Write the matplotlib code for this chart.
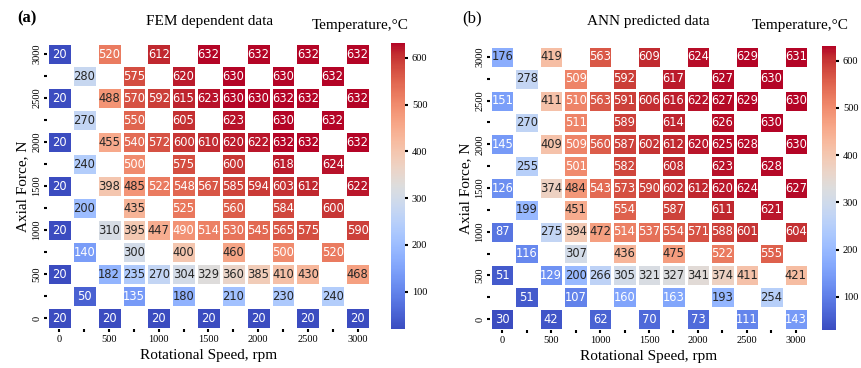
import numpy as np
import matplotlib
matplotlib.use("Agg")
import matplotlib.pyplot as plt
import seaborn as sns

n = np.nan

# rotational speed columns 0..3000 step 250, axial force rows 3000 (top) .. 0 (bottom)
speed_labels = ['0', '', '500', '', '1000', '', '1500', '', '2000', '', '2500', '', '3000']
force_labels = ['3000', '', '2500', '', '2000', '', '1500', '', '1000', '', '500', '', '0']

fem = np.array([
    [20, n, 520, n, 612, n, 632, n, 632, n, 632, n, 632],
    [n, 280, n, 575, n, 620, n, 630, n, 630, n, 632, n],
    [20, n, 488, 570, 592, 615, 623, 630, 630, 632, 632, n, 632],
    [n, 270, n, 550, n, 605, n, 623, n, 630, n, 632, n],
    [20, n, 455, 540, 572, 600, 610, 620, 622, 632, 632, n, 632],
    [n, 240, n, 500, n, 575, n, 600, n, 618, n, 624, n],
    [20, n, 398, 485, 522, 548, 567, 585, 594, 603, 612, n, 622],
    [n, 200, n, 435, n, 525, n, 560, n, 584, n, 600, n],
    [20, n, 310, 395, 447, 490, 514, 530, 545, 565, 575, n, 590],
    [n, 140, n, 300, n, 400, n, 460, n, 500, n, 520, n],
    [20, n, 182, 235, 270, 304, 329, 360, 385, 410, 430, n, 468],
    [n, 50, n, 135, n, 180, n, 210, n, 230, n, 240, n],
    [20, n, 20, n, 20, n, 20, n, 20, n, 20, n, 20],
])

ann = np.array([
    [176, n, 419, n, 563, n, 609, n, 624, n, 629, n, 631],
    [n, 278, n, 509, n, 592, n, 617, n, 627, n, 630, n],
    [151, n, 411, 510, 563, 591, 606, 616, 622, 627, 629, n, 630],
    [n, 270, n, 511, n, 589, n, 614, n, 626, n, 630, n],
    [145, n, 409, 509, 560, 587, 602, 612, 620, 625, 628, n, 630],
    [n, 255, n, 501, n, 582, n, 608, n, 623, n, 628, n],
    [126, n, 374, 484, 543, 573, 590, 602, 612, 620, 624, n, 627],
    [n, 199, n, 451, n, 554, n, 587, n, 611, n, 621, n],
    [87, n, 275, 394, 472, 514, 537, 554, 571, 588, 601, n, 604],
    [n, 116, n, 307, n, 436, n, 475, n, 522, n, 555, n],
    [51, n, 129, 200, 266, 305, 321, 327, 341, 374, 411, n, 421],
    [n, 51, n, 107, n, 160, n, 163, n, 193, n, 254, n],
    [30, n, 42, n, 62, n, 70, n, 73, n, 111, n, 143],
])

serif = 'Liberation Serif'
W, H = 862, 368
fig = plt.figure(figsize=(W / 100, H / 100), dpi=100)


def box(x0, y0, x1, y1):
    return [x0 / W, 1 - y1 / H, (x1 - x0) / W, (y1 - y0) / H]


panels = [
    (fem, '(a)', 'FEM dependent data', box(47, 43, 370, 329), box(391, 43, 405, 329), 17, 210, 360),
    (ann, '(b)', 'ANN predicted data', box(490, 46, 808, 330), box(822, 46, 836, 330), 462, 648, 800),
]

for data, tag, title, ax_pos, cb_pos, tag_x, title_x, temp_x in panels:
    ax = fig.add_axes(ax_pos)
    cax = fig.add_axes(cb_pos)
    sns.heatmap(data, ax=ax, cbar_ax=cax, cmap='coolwarm', annot=True, fmt='.0f',
                annot_kws={'fontsize': 8.3}, linewidths=1, linecolor='white',
                xticklabels=speed_labels, yticklabels=force_labels)
    ax.tick_params(length=2, width=1.5, pad=2)
    for lab in ax.get_xticklabels():
        lab.set_fontfamily(serif)
        lab.set_fontsize(7.5)
        lab.set_rotation(0)
    for lab in ax.get_yticklabels():
        lab.set_fontfamily(serif)
        lab.set_fontsize(7.5)
        lab.set_rotation(90)
        lab.set_va('center')
    ax.set_xlabel('Rotational Speed, rpm', fontfamily=serif, fontsize=11)
    ax.set_ylabel('Axial Force, N', fontfamily=serif, fontsize=11, labelpad=2)

    cax.set_yticks([100, 200, 300, 400, 500, 600])
    cax.tick_params(length=2, width=1.5, pad=3)
    for lab in cax.get_yticklabels():
        lab.set_fontfamily(serif)
        lab.set_fontsize(7.5)
    cax.spines[:].set_visible(False)

    fig.text(tag_x / W, 1 - 18 / H, tag, fontfamily=serif, fontsize=12,
             fontweight='bold' if tag == '(a)' else 'normal', ha='left', va='center')
    fig.text(title_x / W, 1 - 22 / H, title, fontfamily=serif, fontsize=11,
             ha='center', va='center')
    fig.text(temp_x / W, 1 - 25 / H, 'Temperature,\u00b0C', fontfamily=serif, fontsize=11,
             ha='center', va='center')

fig.savefig('out.png', dpi=100)
